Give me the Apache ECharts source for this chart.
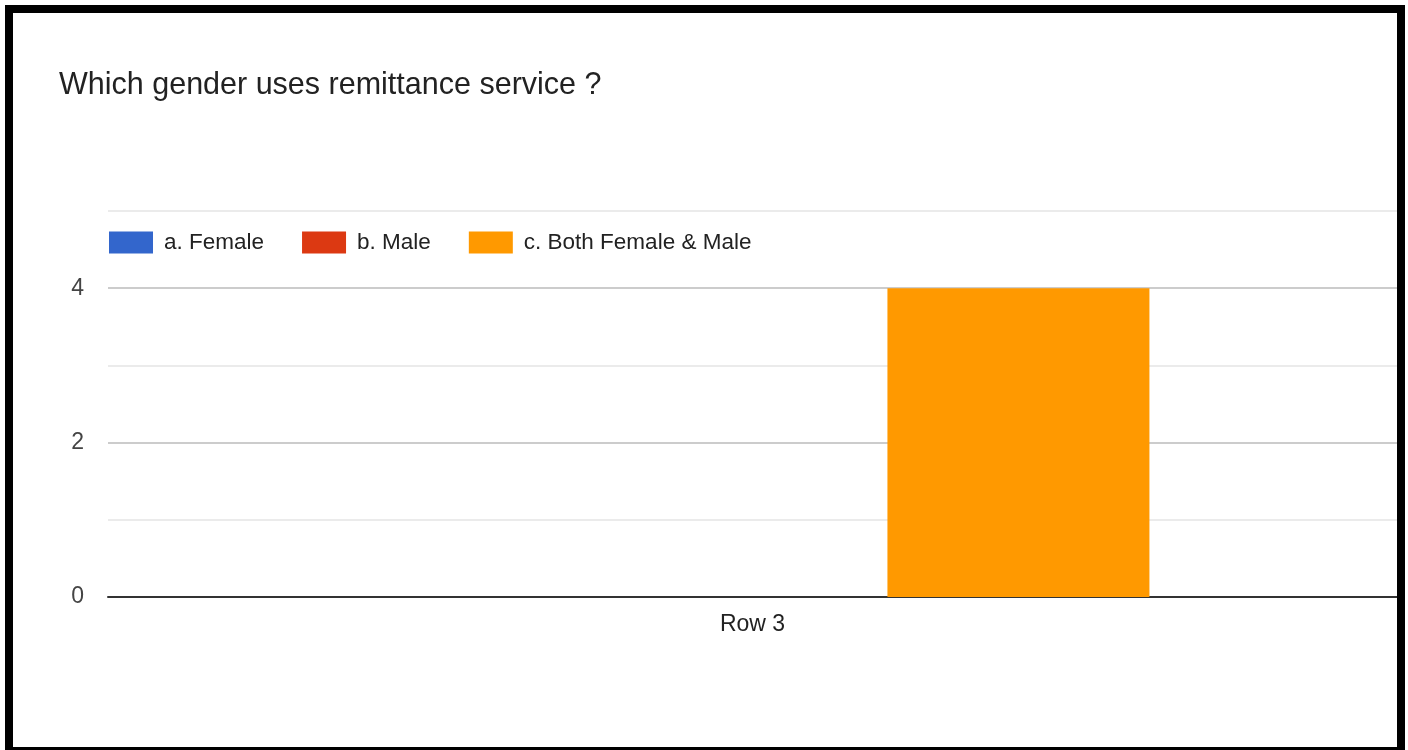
<!DOCTYPE html>
<html>
<head>
<meta charset="utf-8">
<script src="https://cdn.jsdelivr.net/npm/echarts@6/dist/echarts.min.js"></script>
<style>
  html, body { margin: 0; padding: 0; background: #fff; }
  #chart { position: absolute; left: 0; top: 0; width: 1408px; height: 750px; }
  #frame {
    position: absolute; left: 5px; top: 5px; width: 1384px; height: 734px;
    border: 8px solid #000; pointer-events: none;
  }
</style>
</head>
<body>
<div id="chart"></div>
<div id="frame"></div>
<script>
// Survey answers for one row of the form
const categories = ['Row 3'];
const seriesNames = ['a. Female', 'b. Male', 'c. Both Female & Male'];
const femaleValues = [0];
const maleValues = [0];
const bothValues = [4];
const seriesColors = ['#3366cc', '#dc3912', '#ff9900'];
const yTickLabels = ['0', '2', '4'];

const font = 'Arial, "Liberation Sans", sans-serif';
const valuesBySeries = [femaleValues, maleValues, bothValues];

const chart = echarts.init(document.getElementById('chart'), null, { renderer: 'canvas' });

chart.setOption({
  animation: false,
  backgroundColor: '#ffffff',
  title: {
    text: 'Which gender uses remittance service ?',
    left: 54,
    top: 65,
    textStyle: { fontFamily: font, fontSize: 30.5, fontWeight: 'normal', color: '#222222' }
  },
  legend: {
    left: 104,
    top: 226,
    icon: 'rect',
    itemWidth: 44,
    itemHeight: 22,
    itemGap: 38,
    textStyle: { fontFamily: font, fontSize: 22.5, color: '#222222', padding: [0, 0, 0, 6] },
    data: seriesNames
  },
  grid: { left: 108, right: 11, top: 211, bottom: 153 },
  xAxis: {
    type: 'category',
    data: categories,
    axisTick: { show: false },
    axisLine: { show: true, lineStyle: { color: '#333333', width: 2 } },
    axisLabel: { fontFamily: font, fontSize: 23, color: '#222222', margin: 16 }
  },
  yAxis: {
    type: 'value',
    min: 0,
    max: 5,
    interval: 1,
    axisLine: { show: false },
    axisTick: { show: false },
    axisLabel: {
      fontFamily: font, fontSize: 23, color: '#444444', margin: 24,
      formatter: v => (yTickLabels.indexOf(String(v)) >= 0 ? String(v) : '')
    },
    splitLine: { lineStyle: { color: ['#cccccc', '#ebebeb'], width: 2 } }
  },
  series: seriesNames.map((name, i) => ({
    name: name,
    type: 'bar',
    data: valuesBySeries[i],
    barWidth: 262,
    barGap: '1.5%',
    itemStyle: { color: seriesColors[i] }
  }))
});
</script>
</body>
</html>
